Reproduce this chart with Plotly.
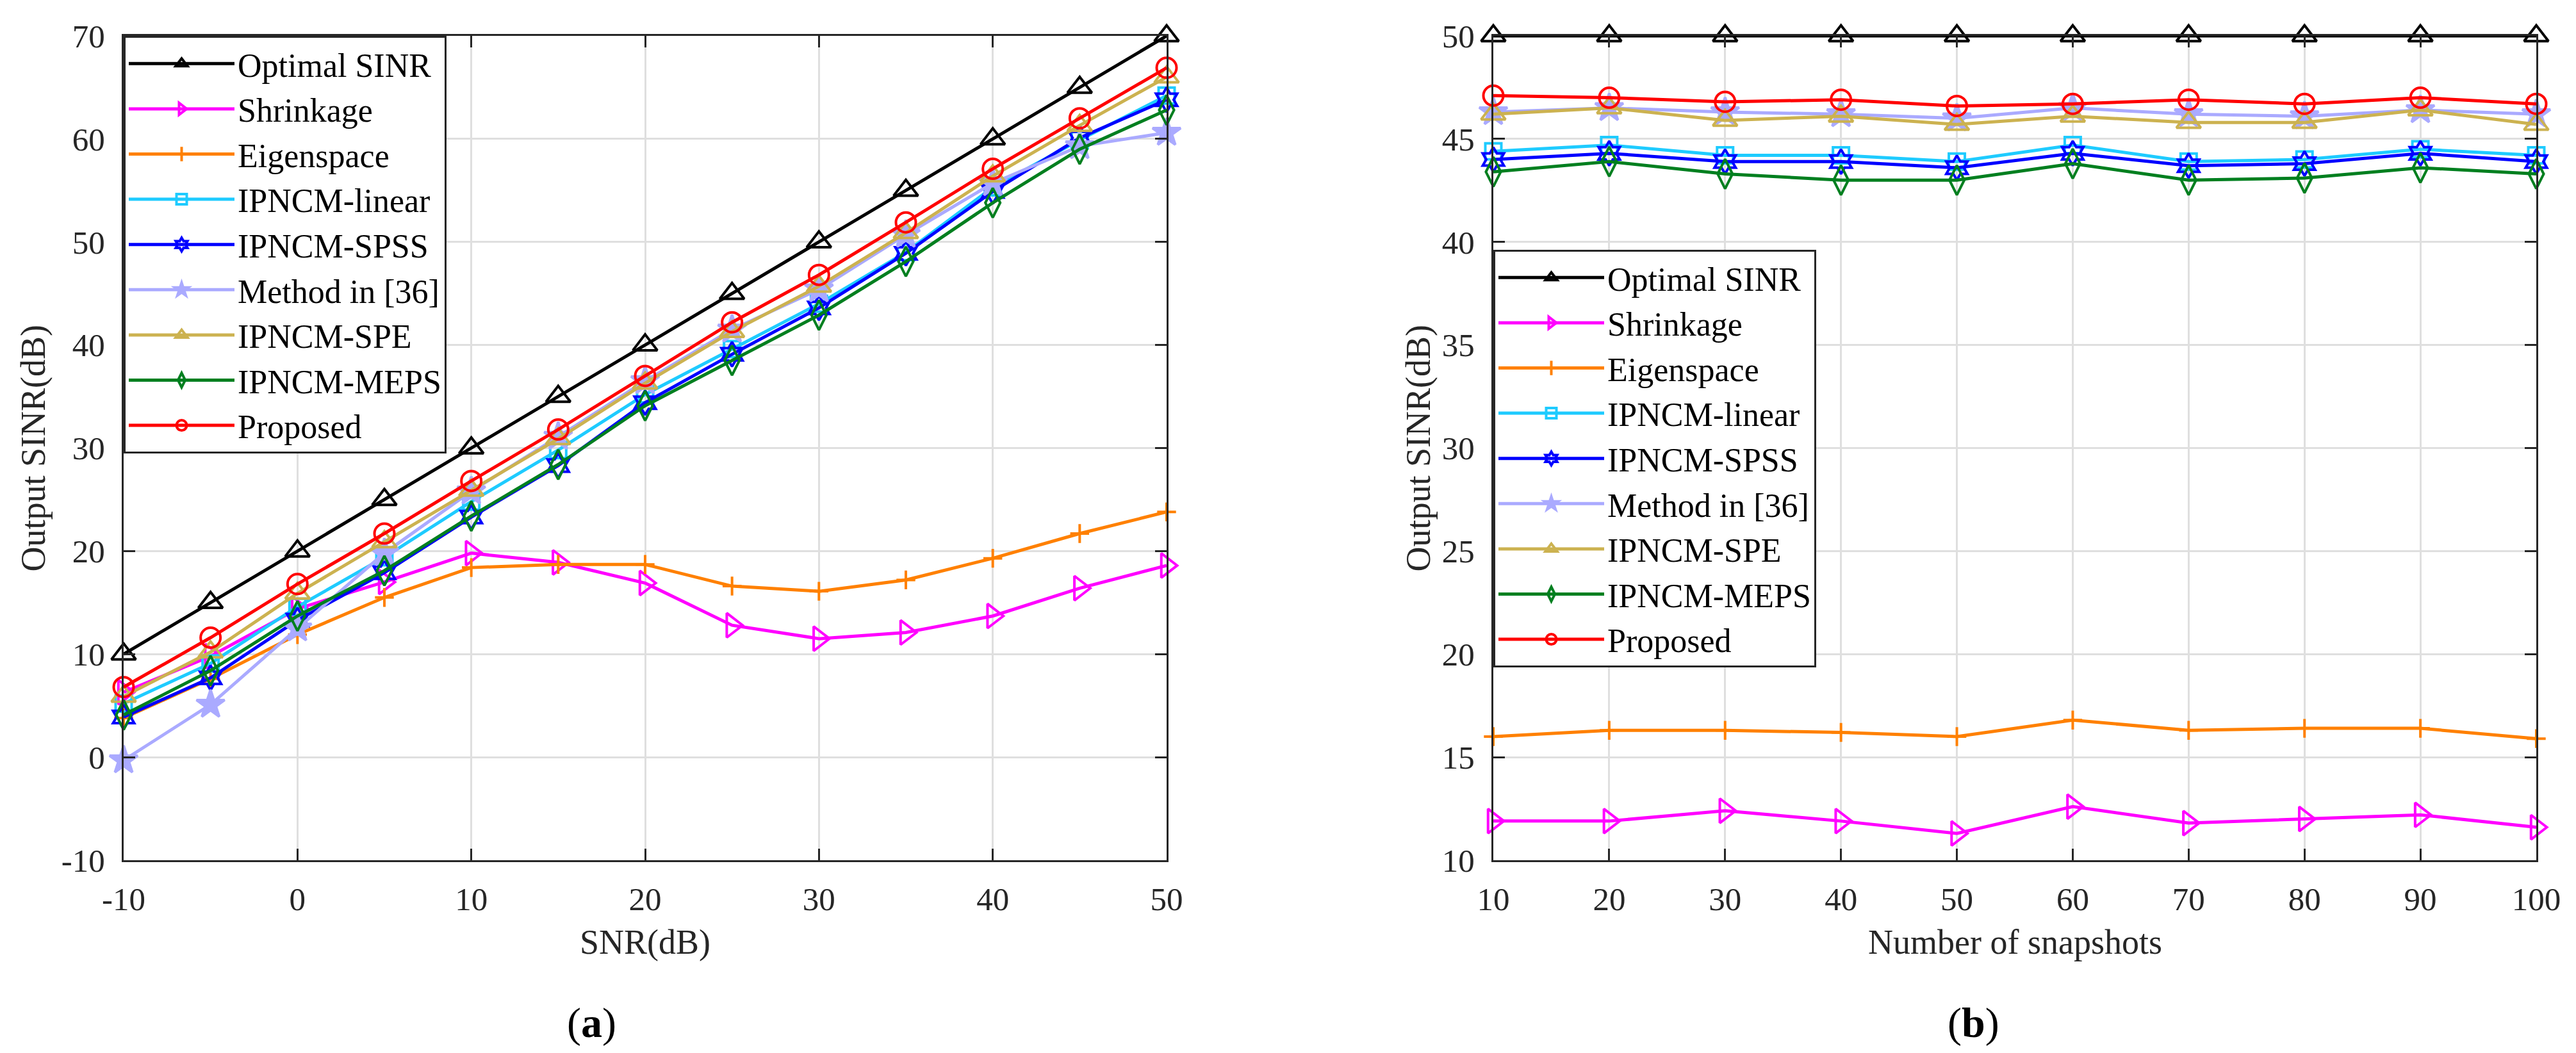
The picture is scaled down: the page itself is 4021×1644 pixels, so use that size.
import plotly.graph_objects as go

# ---- (a) output SINR versus input SNR
snr = [-10, -5, 0, 5, 10, 15, 20, 25, 30, 35, 40, 45, 50]
optimal_a = [10, 15, 20, 25, 30, 35, 40, 45, 50, 55, 60, 65, 70]
shrinkage_a = [6.3, 9.8, 14.4, 17.0, 19.8, 18.9, 16.9, 12.8, 11.5, 12.1, 13.7, 16.4, 18.6]
eigenspace_a = [3.8, 7.6, 11.9, 15.5, 18.4, 18.7, 18.7, 16.6, 16.1, 17.2, 19.3, 21.7, 23.8]
linear_a = [5.2, 9.1, 14.6, 19.4, 24.8, 29.8, 35.2, 39.6, 44.0, 49.0, 55.3, 59.9, 64.2]
spss_a = [3.9, 7.7, 13.3, 17.9, 23.3, 28.3, 34.4, 39.1, 43.6, 48.9, 54.9, 60.1, 63.8]
method36_a = [-0.3, 5.1, 12.5, 19.8, 25.8, 31.1, 36.5, 41.5, 45.4, 50.7, 55.7, 59.3, 60.6]
spe_a = [5.9, 10.2, 15.9, 20.9, 25.9, 30.9, 36.3, 41.3, 45.7, 50.9, 56.4, 61.3, 66.0]
meps_a = [4.1, 8.4, 13.7, 18.1, 23.4, 28.4, 34.1, 38.5, 42.9, 48.1, 53.8, 59.0, 62.8]
proposed_a = [6.8, 11.6, 16.8, 21.7, 26.8, 31.8, 37.0, 42.2, 46.8, 51.9, 57.1, 62.0, 66.9]

# ---- (b) output SINR versus number of snapshots
snapshots = [10, 20, 30, 40, 50, 60, 70, 80, 90, 100]
optimal_b = [50, 50, 50, 50, 50, 50, 50, 50, 50, 50]
shrinkage_b = [11.9, 11.9, 12.4, 11.9, 11.3, 12.6, 11.8, 12.0, 12.2, 11.6]
eigenspace_b = [16.0, 16.3, 16.3, 16.2, 16.0, 16.8, 16.3, 16.4, 16.4, 15.9]
linear_b = [44.4, 44.7, 44.2, 44.2, 43.9, 44.7, 43.9, 44.0, 44.5, 44.2]
spss_b = [44.0, 44.3, 43.9, 43.9, 43.6, 44.3, 43.7, 43.8, 44.3, 43.9]
method36_b = [46.3, 46.5, 46.3, 46.2, 46.0, 46.5, 46.2, 46.1, 46.4, 46.2]
spe_b = [46.2, 46.5, 45.9, 46.1, 45.7, 46.1, 45.8, 45.8, 46.4, 45.7]
meps_b = [43.4, 43.9, 43.3, 43.0, 43.0, 43.8, 43.0, 43.1, 43.6, 43.3]
proposed_b = [47.1, 47.0, 46.8, 46.9, 46.6, 46.7, 46.9, 46.7, 47.0, 46.7]

names = ['Optimal SINR', 'Shrinkage', 'Eigenspace', 'IPNCM-linear', 'IPNCM-SPSS',
         'Method in [36]', 'IPNCM-SPE', 'IPNCM-MEPS', 'Proposed']
series_a = [optimal_a, shrinkage_a, eigenspace_a, linear_a, spss_a,
            method36_a, spe_a, meps_a, proposed_a]
series_b = [optimal_b, shrinkage_b, eigenspace_b, linear_b, spss_b,
            method36_b, spe_b, meps_b, proposed_b]

# tick labels (plain hyphen minus like MATLAB)
xticks_a = [-10, 0, 10, 20, 30, 40, 50]
xlabels_a = ['-10', '0', '10', '20', '30', '40', '50']
yticks_a = [-10, 0, 10, 20, 30, 40, 50, 60, 70]
ylabels_a = ['-10', '0', '10', '20', '30', '40', '50', '60', '70']

# styles, MATLAB-ish
colors = ['#000000', '#FF00FF', '#FF8000', '#1ECBFF', '#0000FF',
          '#AAAAFF', '#CCB250', '#007F1F', '#FF0000']
symbols = ['triangle-up-open', 'triangle-right-open', 'cross-thin-open', 'square-open',
           'hexagram-open', 'star', 'triangle-up-open', 'diamond-tall-open', 'circle-open']
msizes = [33, 33, 21, 25, 29, 33, 33, 33, 31]

FONT = 'Liberation Serif'
AX = '#262626'

fig = go.Figure()

for xs, ys_list, xa, ya, leg in [(snr, series_a, 'x', 'y', 'legend'),
                                  (snapshots, series_b, 'x2', 'y2', 'legend2')]:
    for name, ys, c, s, ms in zip(names, ys_list, colors, symbols, msizes):
        fig.add_trace(go.Scatter(
            x=xs, y=ys, name=name, mode='lines+markers',
            line=dict(color=c, width=5),
            marker=dict(symbol=s, size=ms, color=c, line=dict(color=c, width=4)),
            cliponaxis=False, xaxis=xa, yaxis=ya, legend=leg,
        ))

axis_style = dict(
    showline=True, linecolor=AX, linewidth=3, mirror='ticks',
    ticks='inside', ticklen=18, tickwidth=3, tickcolor=AX,
    showgrid=True, gridcolor='#DFDFDF', gridwidth=3, zeroline=False,
    tickfont=dict(family=FONT, size=51, color=AX), automargin=False,
)

Y_DOM = [1 - 1343 / 1644, 1 - 56 / 1644]
leg_style = dict(xanchor='left', yanchor='top', bgcolor='white', bordercolor=AX,
                 borderwidth=3, font=dict(family=FONT, size=52, color='black'),
                 itemwidth=165, tracegroupgap=0)

fig.update_layout(
    width=4021, height=1644,
    margin=dict(l=0, r=0, t=0, b=0, autoexpand=False),
    paper_bgcolor='white', plot_bgcolor='white',
    font=dict(family=FONT, color=AX),
    xaxis=dict(axis_style, domain=[193 / 4021, 1821 / 4021], range=[-10, 50],
               tickvals=xticks_a, ticktext=xlabels_a, ticklabelstandoff=14),
    yaxis=dict(axis_style, domain=Y_DOM, range=[-10, 70],
               tickvals=yticks_a, ticktext=ylabels_a, ticklabelstandoff=16),
    xaxis2=dict(axis_style, domain=[2331 / 4021, 3959 / 4021], range=[10, 100],
                tick0=10, dtick=10, anchor='y2', ticklabelstandoff=14),
    yaxis2=dict(axis_style, domain=Y_DOM, range=[10, 50], dtick=5, anchor='x2',
                ticklabelstandoff=16),
    legend=dict(leg_style, x=193 / 4021, y=Y_DOM[1]),
    legend2=dict(leg_style, x=2331 / 4021, y=1 - 390 / 1644),
    showlegend=True,
)

title_font = dict(family=FONT, size=54, color=AX)
annos = [
    dict(text='Output SINR(dB)', x=51 / 4021, y=1 - 699.5 / 1644, textangle=-90),
    dict(text='Output SINR(dB)', x=2213 / 4021, y=1 - 699.5 / 1644, textangle=-90),
    dict(text='SNR(dB)', x=1007 / 4021, y=1 - 1471 / 1644),
    dict(text='Number of snapshots', x=3145 / 4021, y=1 - 1471 / 1644),
]
for a in annos:
    fig.add_annotation(xref='paper', yref='paper', showarrow=False,
                       xanchor='center', yanchor='middle', font=title_font, **a)

for txt, xc in [('(<b>a</b>)', 923), ('(<b>b</b>)', 3080)]:
    fig.add_annotation(text=txt, xref='paper', yref='paper', x=xc / 4021, y=1 - 1597 / 1644,
                       showarrow=False, xanchor='center', yanchor='middle',
                       font=dict(family=FONT, size=66, color='black'))

fig.write_html("out.html", config={'displayModeBar': False},
               post_script="document.body.style.margin='0px';")
